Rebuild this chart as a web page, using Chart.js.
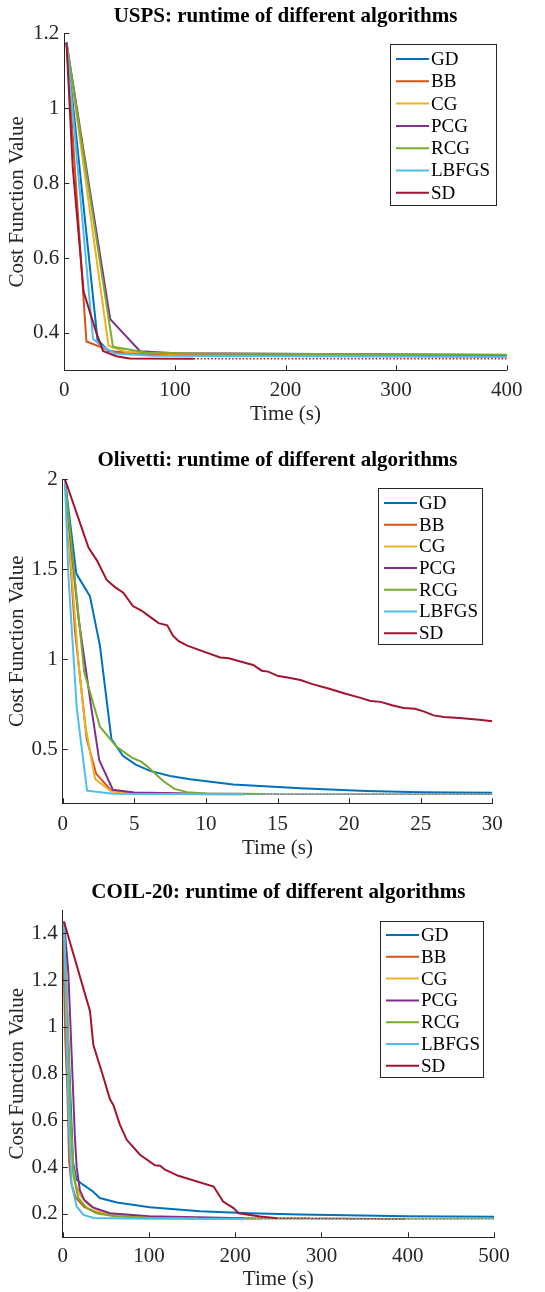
<!DOCTYPE html>
<html><head><meta charset="utf-8">
<script src="https://cdn.jsdelivr.net/npm/chart.js@4.4.1/dist/chart.umd.min.js"></script>
<style>
html,body{margin:0;padding:0;background:#fff;}
#wrap{position:relative;width:545px;height:1292px;overflow:hidden;}
canvas{position:absolute;left:0;}
</style></head><body>
<div id="wrap">
<canvas id="c1" width="545" height="431" style="top:0px"></canvas>
<canvas id="c2" width="545" height="431" style="top:431px"></canvas>
<canvas id="c3" width="545" height="430" style="top:862px"></canvas>
</div>
<script>
// ---------- labels ----------
const ALGOS = ['GD','BB','CG','PCG','RCG','LBFGS','SD'];
const COLORS = ['#0072BD','#D95319','#EDB120','#7E2F8E','#77AC30','#4DBEEE','#A2142F'];

// ---------- USPS: [time, cost] ----------
const USPS_TITLE = 'USPS: runtime of different algorithms';
const USPS_XTICKS = [0,100,200,300,400];
const USPS_YTICKS = [0.4,0.6,0.8,1,1.2];
const USPS_GD    = [[2,1.175],[30,0.382],[40,0.352],[60,0.346],[100,0.344],[200,0.342],[300,0.341],[400,0.340]];
const USPS_BB    = [[2,1.175],[20,0.377],[44,0.350],[70,0.343],[150,0.340],[400,0.338]];
const USPS_CG    = [[2,1.175],[40,0.366],[55,0.350],[100,0.344],[400,0.340]];
const USPS_PCG   = [[2,1.175],[41.5,0.437],[68.5,0.351],[100,0.346],[400,0.341]];
const USPS_RCG   = [[2,1.175],[44,0.363],[74,0.348],[120,0.345],[400,0.342]];
const USPS_LBFGS = [[2,1.175],[26,0.384],[34,0.365],[46,0.345],[80,0.339],[400,0.336]];
const USPS_SD    = [[2,1.175],[7.6,0.844],[17.5,0.51],[29,0.40],[35,0.352],[47,0.338],[59,0.332],[117,0.331],[400,0.331]];
const USPS_DOTTED_TAIL = [false,false,false,false,false,false,true];

// ---------- Olivetti ----------
const OLI_TITLE = 'Olivetti: runtime of different algorithms';
const OLI_XTICKS = [0,5,10,15,20,25,30];
const OLI_YTICKS = [0.5,1,1.5,2];
const OLI_GD    = [[0.15,2],[0.95,1.475],[1.9,1.35],[2.6,1.075],[3.4,0.557],[4.2,0.464],[5.1,0.415],[6.1,0.38],[7.5,0.352],[8.9,0.333],[11.9,0.305],[16.6,0.283],[21.2,0.268],[25,0.262],[30,0.258]];
const OLI_BB    = [[0.15,2],[0.86,1.155],[1.68,0.557],[2.33,0.365],[3.4,0.27],[5,0.256],[8,0.252],[12.7,0.25],[30,0.25]];
const OLI_CG    = [[0.15,2],[0.6,1.5],[1.1,0.98],[1.56,0.64],[2.26,0.335],[3.4,0.265],[5,0.253],[12.5,0.25],[30,0.25]];
const OLI_PCG   = [[0.15,2],[0.6,1.62],[1.1,1.23],[2.0,0.73],[2.55,0.44],[3.5,0.275],[5,0.26],[10,0.253],[13.8,0.251],[30,0.25]];
const OLI_RCG   = [[0.15,2],[1.5,0.93],[2.6,0.625],[3.75,0.515],[4.8,0.455],[5.5,0.43],[5.9,0.405],[7.0,0.325],[7.8,0.28],[8.7,0.262],[10,0.255],[14,0.252],[30,0.25]];
const OLI_LBFGS = [[0.15,2],[0.4,1.46],[0.98,0.73],[1.7,0.27],[3.5,0.253],[12.5,0.25],[30,0.25]];
const OLI_SD    = [[0.15,2],[1.8,1.62],[2.4,1.547],[3.07,1.44],[3.65,1.40],[4.23,1.369],[4.9,1.295],[5.5,1.27],[6.1,1.235],[6.7,1.2],[7.3,1.188],[7.7,1.13],[8.1,1.1],[8.7,1.075],[9.8,1.043],[11,1.009],[11.6,1.005],[12.4,0.987],[13.3,0.968],[13.9,0.936],[14.35,0.931],[15.05,0.906],[15.6,0.9],[16.6,0.884],[17.5,0.86],[18.55,0.837],[19.7,0.809],[20.8,0.785],[21.5,0.768],[22.2,0.763],[23,0.744],[23.8,0.729],[24.6,0.725],[25.2,0.71],[25.9,0.688],[26.6,0.679],[27.7,0.673],[29.1,0.664],[30,0.655]];
const OLI_DOTTED_TAIL = [false,true,true,true,true,true,false];

// ---------- COIL-20 ----------
const COIL_TITLE = 'COIL-20: runtime of different algorithms';
const COIL_XTICKS = [0,100,200,300,400,500];
const COIL_YTICKS = [0.2,0.4,0.6,0.8,1,1.2,1.4];
const COIL_GD    = [[1.5,1.45],[5,1.1],[9,0.7],[12,0.42],[16,0.346],[24,0.324],[35,0.296],[43,0.268],[63,0.249],[101,0.229],[159,0.211],[217,0.203],[275,0.197],[400,0.19],[500,0.188]];
const COIL_BB    = [[0.5,1.45],[1.5,1.2],[3,0.95],[5.5,0.72],[7.5,0.42],[10,0.33],[15,0.27],[25,0.23],[40,0.205],[60,0.193],[100,0.186],[150,0.182],[230,0.18],[500,0.179]];
const COIL_CG    = [[1.5,1.45],[5,1.1],[9,0.6],[12,0.4],[15,0.33],[20,0.28],[30,0.237],[45,0.207],[70,0.192],[100,0.186],[200,0.181],[285,0.18],[500,0.179]];
const COIL_PCG   = [[1.5,1.45],[6.5,1.236],[10.4,0.88],[14.2,0.524],[16.2,0.4],[20,0.3],[25,0.26],[35,0.228],[55,0.203],[100,0.19],[210,0.181],[461,0.179]];
const COIL_RCG   = [[1.5,1.45],[5,1.0],[9,0.6],[12.3,0.367],[18,0.268],[28,0.225],[39,0.203],[60,0.19],[100,0.184],[156,0.182],[500,0.18]];
const COIL_LBFGS = [[1.5,1.45],[4,1.05],[7,0.6],[10.4,0.324],[16.2,0.232],[24,0.196],[36,0.183],[100,0.179],[210,0.178],[500,0.178]];
const COIL_SD    = [[1.5,1.45],[31.6,1.068],[35.5,0.923],[47,0.787],[54.8,0.69],[58.7,0.666],[66.4,0.581],[74.2,0.517],[89.6,0.453],[107,0.408],[112.8,0.406],[118.6,0.389],[134,0.363],[175,0.317],[186,0.253],[198,0.225],[204,0.203],[229,0.189],[248,0.182],[397,0.178]];
const COIL_DOTTED_TAIL = [false,true,true,true,true,true,true];

// ---------- rendering ----------
const AX = '#262626';
Chart.defaults.font.family = "'Liberation Serif','Times New Roman',serif";
Chart.defaults.color = AX;

const fmt = v => String(Math.round(v*100)/100);

const inTicks = {
  id: 'inTicks',
  afterDraw(chart) {
    const {ctx, scales: {x, y}, chartArea: ca} = chart;
    ctx.save();
    ctx.strokeStyle = AX; ctx.lineWidth = 1;
    ctx.beginPath();
    x.ticks.forEach(t => { const p = Math.round(x.getPixelForValue(t.value)) + 0.5; ctx.moveTo(p, ca.bottom); ctx.lineTo(p, ca.bottom - 5); });
    y.ticks.forEach(t => { const p = Math.round(y.getPixelForValue(t.value)) + 0.5; ctx.moveTo(ca.left, p); ctx.lineTo(ca.left + 5, p); });
    ctx.stroke();
    ctx.restore();
  }
};

const boxLegend = {
  id: 'boxLegend',
  afterDraw(chart, args, o) {
    const ctx = chart.ctx, ca = chart.chartArea;
    const x0 = Math.round(ca.right - o.right - o.w), y0 = Math.round(ca.top + o.top);
    ctx.save();
    ctx.fillStyle = '#fff';
    ctx.fillRect(x0, y0, o.w, o.h);
    ctx.strokeStyle = AX; ctx.lineWidth = 1;
    ctx.strokeRect(x0 + 0.5, y0 + 0.5, o.w, o.h);
    ctx.font = '19px "Liberation Serif"';
    ctx.textBaseline = 'middle'; ctx.textAlign = 'left';
    chart.data.datasets.forEach((ds, i) => {
      const y = y0 + o.first + i * o.row;
      ctx.strokeStyle = ds.borderColor; ctx.lineWidth = 2;
      ctx.beginPath(); ctx.moveTo(x0 + 6, y); ctx.lineTo(x0 + 39, y); ctx.stroke();
      ctx.fillStyle = '#000';
      ctx.fillText(ds.label, x0 + 41, y + 1);
    });
    ctx.restore();
  }
};

function makeChart(id, title, series, dotted, xr, xticks, yr, yticks, L) {
  const datasets = series.map((s, i) => {
    const n = s.length;
    const tail = ctx => dotted[i] && ctx.p1DataIndex === n - 1;
    return {
      label: ALGOS[i],
      data: s.map(p => ({x: p[0], y: p[1]})),
      borderColor: COLORS[i],
      backgroundColor: COLORS[i],
      borderWidth: 2,
      pointRadius: 0,
      tension: 0,
      order: series.length - i,
      segment: {
        borderDash: ctx => tail(ctx) ? [1.5, 2] : undefined,
        borderWidth: ctx => tail(ctx) ? 1.5 : undefined
      }
    };
  });
  return new Chart(document.getElementById(id), {
    type: 'line',
    data: {datasets},
    plugins: [inTicks, boxLegend],
    options: {
      responsive: false, animation: false, devicePixelRatio: 1,
      layout: {padding: {top: L.pt, left: 0, right: L.pr, bottom: L.pb}},
      plugins: {
        legend: {display: false}, tooltip: {enabled: false},
        title: {display: true, fullSize: false, text: title, color: '#000', font: {size: 21, weight: 'bold'}, padding: {top: 0, bottom: L.tb}},
        boxLegend: L.leg
      },
      scales: {
        x: {
          type: 'linear', min: xr[0], max: xr[1],
          afterBuildTicks: s => { s.ticks = xticks.map(v => ({value: v})); },
          afterFit: s => { s.height = L.xh; },
          grid: {display: false, drawTicks: false},
          border: {display: true, color: AX, width: 1},
          ticks: {padding: L.xtp, color: AX, font: {size: 21}, maxRotation: 0, autoSkip: false, callback: v => fmt(v)},
          title: {display: true, text: 'Time (s)', color: AX, font: {size: 21}, padding: {top: 0, bottom: 0}}
        },
        y: {
          type: 'linear', min: yr[0], max: yr[1],
          afterBuildTicks: s => { s.ticks = yticks.map(v => ({value: v})); },
          afterFit: s => { s.width = L.yw; },
          grid: {display: false, drawTicks: false},
          border: {display: true, color: AX, width: 1},
          ticks: {padding: 5, color: AX, font: {size: 21}, autoSkip: false, callback: v => fmt(v)},
          title: {display: true, text: 'Cost Function Value', color: AX, font: {size: 21}, padding: {top: 5, bottom: 0}}
        }
      }
    }
  });
}

makeChart('c1', USPS_TITLE,
  [USPS_GD, USPS_BB, USPS_CG, USPS_PCG, USPS_RCG, USPS_LBFGS, USPS_SD], USPS_DOTTED_TAIL,
  [0, 400], USPS_XTICKS, [0.3, 1.2], USPS_YTICKS,
  {pt: 4, pr: 38.3, pb: 3.6, tb: 4.1, xh: 57, xtp: 7.6, yw: 64.3,
   leg: {right: 10.7, top: 10.7, w: 106, h: 161, first: 15, row: 22.3}});

makeChart('c2', OLI_TITLE,
  [OLI_GD, OLI_BB, OLI_CG, OLI_PCG, OLI_RCG, OLI_LBFGS, OLI_SD], OLI_DOTTED_TAIL,
  [0, 30], OLI_XTICKS, [0.2, 2], OLI_YTICKS,
  {pt: 17.4, pr: 52.7, pb: 1.4, tb: 5.4, xh: 57.3, xtp: 8.6, yw: 62.7,
   leg: {right: 10.3, top: 9, w: 104, h: 156, first: 15, row: 21.7}});

makeChart('c3', COIL_TITLE,
  [COIL_GD, COIL_BB, COIL_CG, COIL_PCG, COIL_RCG, COIL_LBFGS, COIL_SD], COIL_DOTTED_TAIL,
  [0, 500], COIL_XTICKS, [0.1, 1.5], COIL_YTICKS,
  {pt: 18.2, pr: 51, pb: 0, tb: 4.6, xh: 54.7, xtp: 6.2, yw: 62.7,
   leg: {right: 11, top: 11, w: 103, h: 156, first: 14, row: 21.8}});
</script>
</body></html>
